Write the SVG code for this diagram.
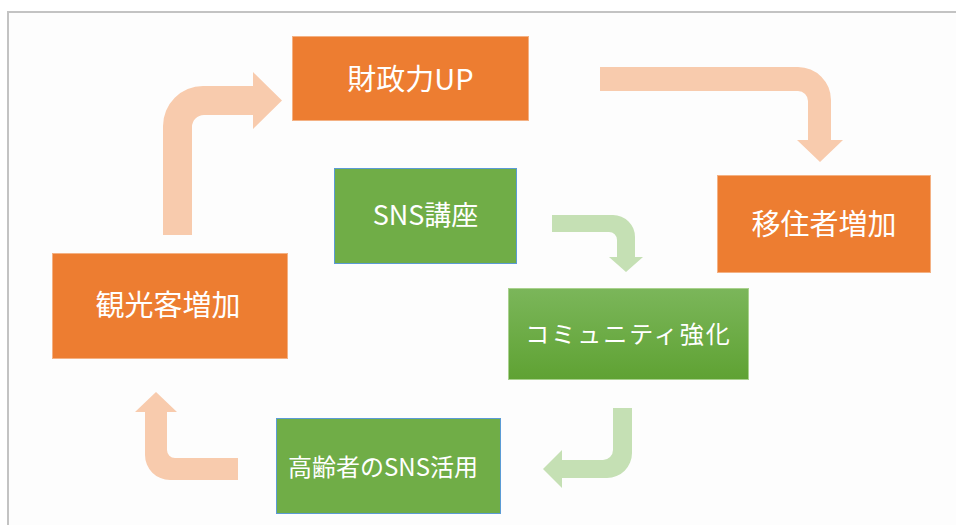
<svg xmlns="http://www.w3.org/2000/svg" width="956" height="525" viewBox="0 0 956 525">
<defs>
<style>
.lbl{font-family:"Noto Sans CJK JP","Noto Sans",sans-serif;fill:#FFFFFF;text-anchor:middle;dominant-baseline:central}
.big{font-size:29px}
.mid{font-size:24px}
.orange{fill:#ED7D31;stroke:#F4B183;stroke-width:1}
.green{fill:#70AD47;stroke:#5B9BD5;stroke-width:1}
.oarrow{fill:#F8CBAD}
.garrow{fill:#C5E0B4}
</style>
<linearGradient id="gg" x1="0" y1="0" x2="0" y2="1">
<stop offset="0" stop-color="#7BB65A"/>
<stop offset="1" stop-color="#5FA233"/>
</linearGradient>
</defs>
<rect x="0" y="0" width="956" height="525" fill="#FFFFFF"/>
<rect x="8" y="12" width="960" height="520" fill="#FDFDFD" stroke="#C3C3C3" stroke-width="2"/>

<g id="connectors">
<path class="oarrow" d="M163,235 L163,126 A40,40 0 0 1 203,86 L253,86 L253,72 L282,100.5 L253,129 L253,115 L204,115 A12,12 0 0 0 192,127 L192,235 Z"/>
<path class="oarrow" d="M600,67 L798,67 A33,33 0 0 1 831,100 L831,140 L843,140 L820,162 L797,140 L808,140 L808,101 A10,10 0 0 0 798,91 L600,91 Z"/>
<path class="garrow" d="M552,215 L613,215 A22,22 0 0 1 635,237 L635,257 L643,257 L626,272 L609,257 L617,257 L617,240 A8,8 0 0 0 609,232 L552,232 Z"/>
<path class="garrow" d="M613,408 L632,408 L632,453 A25,25 0 0 1 607,478 L562,478 L562,488 L543,469 L562,450 L562,460 L603,460 A10,10 0 0 0 613,450 Z"/>
<path class="oarrow" d="M238,480 L170,480 A25,25 0 0 1 145,455 L145,412 L135,412 L156,392 L177,412 L167,412 L167,450 A8,8 0 0 0 175,458 L238,458 Z"/>
</g>

<g id="node-zaiseiryoku">
<rect class="orange" x="292.5" y="36.5" width="236" height="84"/>
<text class="lbl big" x="410.5" y="77">財政力UP</text>
</g>
<g id="node-ijusha">
<rect class="orange" x="717.5" y="175.5" width="213" height="97"/>
<text class="lbl big" x="824" y="222">移住者増加</text>
</g>
<g id="node-sns-koza">
<rect class="green" x="334.5" y="168.5" width="182" height="95"/>
<text class="lbl" x="425.5" y="213" font-size="27px">SNS講座</text>
</g>
<g id="node-community">
<rect x="508.5" y="288.5" width="240" height="91" fill="url(#gg)" stroke="#A9D18E" stroke-width="1"/>
<text class="lbl mid" x="628.5" y="332" letter-spacing="2">コミュニティ強化</text>
</g>
<g id="node-koreisha">
<rect class="green" x="276.5" y="418.5" width="224" height="95"/>
<text class="lbl mid" x="383" y="465">高齢者のSNS活用</text>
</g>
<g id="node-kankokyaku">
<rect class="orange" x="52.5" y="253.5" width="235" height="105"/>
<text class="lbl big" x="168" y="303">観光客増加</text>
</g>
</svg>
